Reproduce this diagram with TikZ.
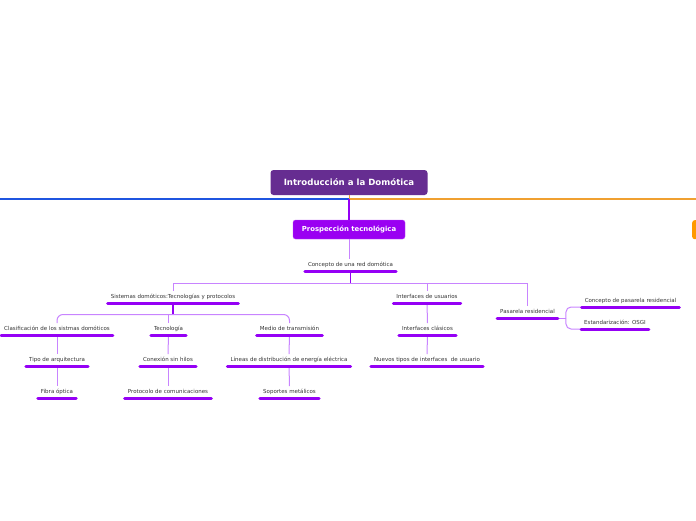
\documentclass[tikz,border=0pt]{standalone}
\usepackage{fontspec}
\setmainfont{DejaVu Sans}
\usetikzlibrary{positioning}
\definecolor{rootpurple}{HTML}{662D91}
\definecolor{mainpurple}{HTML}{9A00F2}
\definecolor{barpurple}{HTML}{9500F5}
\definecolor{linkpurple}{HTML}{C884FF}
\definecolor{textgray}{HTML}{333333}
\definecolor{leftblue}{HTML}{1F55E0}
\definecolor{rightorange}{HTML}{F0A030}
\definecolor{sideorange}{HTML}{FF9900}

\begin{document}
\begin{tikzpicture}[x=1pt, y=-1pt,
  rootbox/.style={rectangle, rounded corners=3pt, fill=rootpurple, text=white, font={\fontsize{8.6}{10}\selectfont\bfseries}, minimum width=157pt, minimum height=25pt, inner sep=0pt},
  mainbox/.style={rectangle, rounded corners=2.5pt, fill=mainpurple, draw=mainpurple!70, text=white, font={\fontsize{6.9}{8}\selectfont\bfseries}, minimum width=112pt, minimum height=19pt, inner sep=0pt},
  sidebox/.style={rectangle, rounded corners=2.5pt, fill=sideorange, minimum width=40pt, minimum height=19pt, anchor=north west},
  topic/.style={anchor=south, text=textgray, font={\fontsize{5.5}{6.6}\selectfont}, inner xsep=3pt, inner ysep=3pt, text height=4.2pt, text depth=1.2pt},
  bar/.style={line width=3pt, line cap=round, draw=barpurple},
  stem/.style={line width=1.3pt, draw=barpurple},
  link/.style={line width=1pt, draw=linkpurple}
]
\useasboundingbox (0,0) rectangle (696,520);
\clip (0,0) rectangle (696,520);

% central topic and main branch
\node[rootbox] (root) at (349,182.5) {Introducción a la Domótica};
\node[mainbox] (prosp) at (349,229.5) {Prospección tecnológica};
\node[sidebox] (nextbranch) at (692,220) {};
\coordinate (rootjoin) at (349,199);
\coordinate (leftend) at (0,199);
\coordinate (rightend) at (696,199);

% topics
\node[topic] (concepto) at (350.5,271) {Concepto de una red domótica};
\node[topic] (sistemas) at (173,303) {Sistemas domóticos:Tecnologías y protocolos};
\node[topic] (interfaces) at (427,303) {Interfaces de usuarios};
\node[topic] (pasarela) at (527.5,318) {Pasarela residencial};
\node[topic] (clasif) at (57,335) {Clasificación de los sistmas domóticos};
\node[topic] (tecnologia) at (168.5,335) {Tecnología};
\node[topic] (medio) at (289.5,335) {Medio de transmisión};
\node[topic] (tipo) at (57,366) {Tipo de arquitectura};
\node[topic] (conexion) at (168,366) {Conexión sin hilos};
\node[topic] (lineas) at (289,366) {Líneas de distribución de energía eléctrica};
\node[topic] (fibra) at (57,398) {Fibra óptica};
\node[topic] (protocolo) at (168,398) {Protocolo de comunicaciones};
\node[topic] (soportes) at (289.5,398) {Soportes metálicos};
\node[topic] (clasicos) at (427.5,335) {Interfaces clásicos};
\node[topic] (nuevos) at (427,366) {Nuevos tipos de interfaces\ \ de usuario};
\node[topic] (concpas) at (630.5,307) {Concepto de pasarela residencial};
\node[topic] (osgi) at (615,329) {Estandarización: OSGI};

% connectors
\draw[line width=1pt, draw=rightorange] (root.south) -- (rootjoin);
\draw[line width=1.1pt, draw=leftblue] (rootjoin) -- (leftend);
\draw[line width=1.1pt, draw=rightorange] (rootjoin) -- (rightend);
\draw[stem] (rootjoin) -- (prosp.north);
\draw[link] (prosp.south) -- (prosp.south |- concepto.north);

\draw[stem] (concepto.south) -- ++(0,12.5) coordinate (cjoin);
\draw[link] (cjoin) -| (sistemas.north);
\draw[link] (cjoin) -| (interfaces.north);
\draw[link] (cjoin) -| (pasarela.north);

\draw[stem] (sistemas.south) -- ++(0,11.5) coordinate (sjoin);
\draw[link, rounded corners=6pt] (sjoin) -| (clasif.north);
\draw[link, rounded corners=6pt] (sjoin) -| (medio.north);
\draw[link] (sjoin) -| (tecnologia.north);

\draw[link] (clasif.south) -- (tipo.north);
\draw[link] (tipo.south) -- (fibra.north);
\draw[link] (tecnologia.south) -- (conexion.north);
\draw[link] (conexion.south) -- (protocolo.north);
\draw[link] (medio.south) -- (lineas.north);
\draw[link] (lineas.south) -- (soportes.north);
\draw[link] (interfaces.south) -- (clasicos.north);
\draw[link] (clasicos.south) -- (nuevos.north);

\draw[link] (pasarela.south east) -- ++(8,0) coordinate (pjoin);
\draw[link, rounded corners=5pt] (pjoin) |- (concpas.south west);
\draw[link, rounded corners=5pt] (pjoin) |- (osgi.south west);

% underline bars
\foreach \n in {concepto,sistemas,interfaces,pasarela,clasif,tecnologia,medio,tipo,conexion,lineas,fibra,protocolo,soportes,clasicos,nuevos,concpas,osgi}
  \draw[bar] (\n.south west) -- (\n.south east);
\end{tikzpicture}
\end{document}
